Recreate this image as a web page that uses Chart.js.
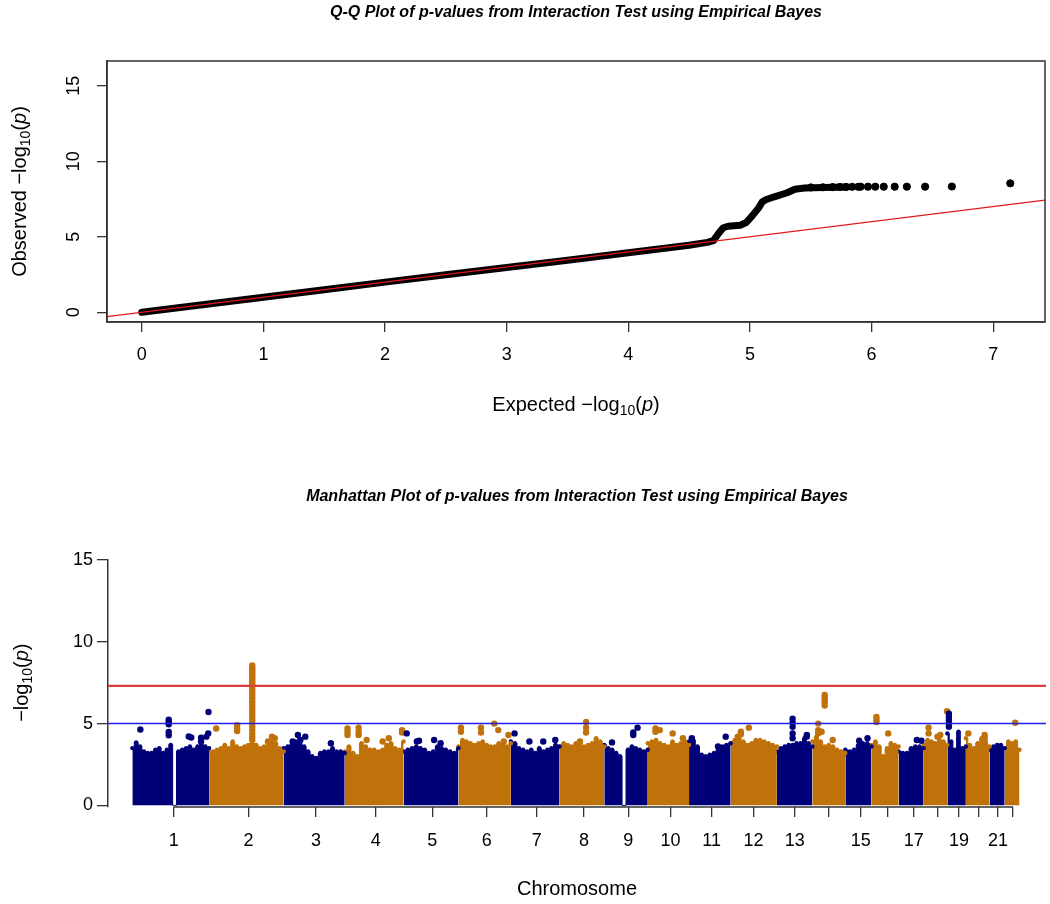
<!DOCTYPE html>
<html lang="en">
<head>
<meta charset="UTF-8">
<title>Q-Q e Manhattan</title>
<script src="https://cdn.jsdelivr.net/npm/chart.js"></script>
<style>
  body { margin: 0; background: #fff; }
  .quadro { position: relative; width: 1050px; height: 904px; }
  .quadro canvas { position: absolute; left: 0; top: 0; }
</style>
</head>
<body>
<div class="quadro">
  <canvas id="qq" width="1050" height="904"></canvas>
  <canvas id="manhattan" width="1050" height="904"></canvas>
</div>
<script>
// ---------- Q-Q data ----------
const qqExpected = [0, 0.5, 1, 1.5, 2, 2.5, 3, 3.5, 4, 4.3, 4.5, 4.65, 4.7, 4.74, 4.78, 4.82, 4.92, 4.97, 5.02, 5.07, 5.1, 5.13, 5.2, 5.3, 5.37, 5.45, 5.6, 5.8];
const qqObserved = [0, 0.5, 1, 1.5, 2, 2.49, 2.97, 3.45, 3.95, 4.24, 4.44, 4.63, 4.75, 5.2, 5.6, 5.7, 5.77, 5.95, 6.4, 6.9, 7.3, 7.45, 7.65, 7.9, 8.15, 8.23, 8.27, 8.3];
const tailExpected = [5.5, 5.6, 5.68, 5.74, 5.79, 5.84, 5.89, 5.91, 5.97, 6.03, 6.10, 6.19, 6.29, 6.44, 6.66, 7.14];
const tailObserved = [8.27, 8.28, 8.29, 8.3, 8.3, 8.31, 8.31, 8.32, 8.32, 8.32, 8.32, 8.32, 8.32, 8.32, 8.33, 8.54];

// ---------- Manhattan data ----------
// chromosome boundaries on the cumulative position axis (Mb)
const chrBounds = [0, 249, 491, 689, 880, 1058, 1228, 1386, 1531, 1672, 1806, 1941, 2091, 2206, 2313, 2398, 2486, 2567, 2644, 2704, 2781, 2830, 2878];
const tickPos = [134, 377, 596, 790, 973, 1150, 1312, 1465, 1609, 1746, 1879, 2015, 2149, 2260, 2363, 2450, 2535, 2614, 2682, 2744, 2808, 2857];
const tickLabels = ['1','2','3','4','5','6','7','8','9','10','11','12','13','','15','','17','','19','','21',''];
// top of the dense cloud of SNPs, sampled evenly along each chromosome (-log10 p)
const bodyTop = [
  [3.5,3.85,3.6,3.3,3.2,3.2,3.4,3.5,3.2,3.4,3.7,0,3.3,3.4,3.5,3.6,3.4,3.6,3.7,3.6,3.5],
  [3.3,3.3,3.4,3.5,3.7,3.5,3.9,3.6,3.5,3.6,3.7,3.8,3.7,3.5,3.6,3.7,3.9,3.8,3.5,3.3],
  [3.5,3.6,3.7,3.9,3.8,3.6,3.3,3.0,2.9,3.2,3.3,3.3,3.5,3.3,3.3,3.2],
  [3.3,3.6,3.2,3.0,3.8,3.6,3.4,3.4,3.3,3.4,3.7,3.8,3.5,3.4,3.9],
  [3.3,3.4,3.5,3.6,3.5,3.4,3.2,3.3,3.6,3.5,3.4,3.3,3.2,3.5],
  [3.6,4.0,3.9,3.8,3.7,3.8,3.9,3.7,3.6,3.6,3.8,3.7,3.6,3.8],
  [3.9,3.8,3.5,3.4,3.3,3.4,3.2,3.5,3.3,3.4,3.5,3.7,3.6],
  [3.6,3.8,3.7,3.6,3.8,3.9,3.6,3.7,3.8,4.1,3.9,3.6],
  [3.7,3.5,3.4,3.2,3.0,0,3.4,3.6,3.5,3.4,3.3,3.4],
  [3.8,3.9,4.0,3.8,3.7,3.6,3.9,3.7,3.8,3.9,3.7],
  [3.9,4.0,3.6,3.1,3.0,3.1,3.2,3.4,3.6,3.7,3.8],
  [3.8,4.0,4.1,3.9,3.7,3.8,4.0,4.0,3.9,3.8,3.7,3.6],
  [3.3,3.5,3.6,3.7,3.7,3.8,3.8,4.1,3.8,3.6],
  [3.9,4.2,3.9,3.6,3.7,3.6,3.4,3.3,3.2],
  [3.4,3.3,3.4,3.7,3.8,3.8,3.6],
  [3.7,3.9,3.6,3.0,3.5,3.8,3.7,3.6],
  [3.3,3.2,3.2,3.5,3.6,3.6,3.5],
  [3.7,4.0,3.9,3.8,4.0,3.9,3.7],
  [4.4,3.9,3.4,4.5,3.5,3.6],
  [4.1,3.7,3.5,3.8,4.1,3.9,3.6],
  [3.4,3.6,3.7,3.7,3.5],
  [3.5,3.9,3.8,3.9,3.4]
];
// single SNPs standing above the cloud: [position Mb, -log10 p]
const hits = [
  [26,4.64],[118,5.24],[118,5.1],[118,4.96],[118,4.49],[118,4.29],[183,4.21],[191,4.15],[223,4.13],[223,3.9],[240,4.2],[247,5.71],[246,4.4],
  [272,4.7],[340,4.9],[340,4.7],[340,4.55],[453,4.2],[462,4.1],[440,3.9],
  [389,8.55],[389,8.42],[389,8.3],[389,8.18],[389,8.05],[389,7.93],[389,7.8],[389,7.68],[389,7.55],[389,7.42],[389,7.3],[389,7.1],
  [389,6.9],[389,6.75],[389,6.55],[389,6.35],[389,6.2],[389,6.0],[389,5.8],[389,5.6],[389,5.4],[389,5.2],[389,5.0],[389,4.8],[389,4.6],[389,4.4],[389,4.2],[389,4.0],
  [537,4.3],[561,4.2],[520,3.9],[545,4.0],[644,3.8],
  [698,4.7],[698,4.5],[698,4.3],[734,4.75],[734,4.5],[734,4.3],[832,4.1],[875,4.6],[875,4.45],[760,4.0],[812,3.9],
  [890,4.4],[923,3.9],[930,3.95],[979,4.0],[1000,3.8],
  [1066,4.75],[1066,4.5],[1131,4.75],[1131,4.45],[1174,5.0],[1187,4.6],[1220,4.3],[1205,3.9],
  [1240,4.4],[1288,3.9],[1333,3.9],[1372,4.0],
  [1472,5.1],[1472,4.75],[1472,4.45],[1452,3.9],
  [1625,4.45],[1625,4.3],[1639,4.75],[1556,3.85],
  [1697,4.7],[1697,4.5],[1711,4.6],[1753,4.4],[1786,4.1],
  [1815,4.1],[1900,3.6],[1925,4.2],
  [1964,4.2],[1974,4.5],[1974,4.35],[2000,4.75],
  [2142,5.3],[2142,5.05],[2142,4.8],[2142,4.4],[2142,4.1],[2188,4.3],[2188,4.2],
  [2225,5.0],[2225,4.6],[2225,4.4],[2246,6.75],[2246,6.6],[2246,6.45],[2246,6.3],[2246,6.1],[2236,4.5],[2272,4.0],
  [2358,3.95],[2385,4.1],
  [2414,5.4],[2414,5.25],[2414,5.1],[2452,4.4],
  [2545,4.0],[2560,3.95],
  [2583,4.75],[2583,4.4],[2612,4.2],[2621,4.3],[2643,5.75],
  [2649,5.6],[2649,5.4],[2649,5.2],[2649,5.0],[2649,4.8],
  [2712,4.4],[2765,4.3],[2765,4.1],
  [2864,5.05]
];
const genomeWide = 7.3;
const suggestive = 5;

const fonte = '"Liberation Sans", Arial, Helvetica, sans-serif';
const navy = '#000079';
const laranja = '#c0720a';

function corDoCromossomo(i) { return i % 2 === 0 ? navy : laranja; }
function cromossomoDe(pos) {
  for (let i = 0; i < chrBounds.length - 1; i++) {
    if (pos < chrBounds[i + 1]) return i;
  }
  return chrBounds.length - 2;
}

// "prefix -log10(p)" with subscript and italic p
function desenhaLog(ctx, prefixo, cx, cy, vertical, size) {
  const partes = [
    [prefixo + '\u2212log', size + 'px ' + fonte, 0],
    ['10', Math.round(size * 0.72) + 'px ' + fonte, size * 0.3],
    ['(', size + 'px ' + fonte, 0],
    ['p', 'italic ' + size + 'px ' + fonte, 0],
    [')', size + 'px ' + fonte, 0]
  ];
  ctx.save();
  let total = 0;
  partes.forEach(p => { ctx.font = p[1]; p.push(ctx.measureText(p[0]).width); total += p[3]; });
  ctx.translate(cx, cy);
  if (vertical) ctx.rotate(-Math.PI / 2);
  ctx.fillStyle = '#000';
  ctx.textBaseline = 'middle';
  ctx.textAlign = 'left';
  let x = -total / 2;
  partes.forEach(p => { ctx.font = p[1]; ctx.fillText(p[0], x, p[2]); x += p[3]; });
  ctx.restore();
}

function titulo(ctx, texto, cx, cy) {
  ctx.save();
  ctx.font = 'italic bold 16px ' + fonte;
  ctx.fillStyle = '#000';
  ctx.textAlign = 'center';
  ctx.textBaseline = 'middle';
  ctx.fillText(texto, cx, cy);
  ctx.restore();
}

// ---------- Q-Q plot ----------
const qqBand = qqExpected.map((e, i) => ({ x: e, y: qqObserved[i] }));
const qqTail = tailExpected.map((e, i) => ({ x: e, y: tailObserved[i] }));

new Chart(document.getElementById('qq'), {
  type: 'scatter',
  data: {
    datasets: [
      { type: 'line', data: [{ x: -1, y: -1 }, { x: 9, y: 9 }], borderColor: '#e3161c', borderWidth: 1.3,
        pointRadius: 0, order: 0, clip: 0 },
      { type: 'line', data: qqBand, borderColor: '#000', borderWidth: 7, borderCapStyle: 'round',
        borderJoinStyle: 'round', pointRadius: 0, tension: 0, order: 1 },
      { data: qqTail, backgroundColor: '#000', borderColor: '#000', pointRadius: 3.6, order: 1 }
    ]
  },
  options: {
    responsive: false, animation: false, events: [],
    layout: { padding: { left: 0, top: 61, right: 5, bottom: 904 - 322 - 60 } },
    plugins: { legend: { display: false }, tooltip: { enabled: false } },
    scales: {
      x: {
        type: 'linear', min: -0.2856, max: 7.4256,
        afterFit: s => { s.height = 60; },
        ticks: { stepSize: 1, includeBounds: false, maxRotation: 0, color: '#000', padding: 12, font: { family: fonte, size: 18 } },
        grid: { drawOnChartArea: false, tickLength: 10, color: '#333', lineWidth: 1.3 },
        border: { display: true, color: '#333', width: 1.5 }
      },
      y: {
        min: -0.64, max: 16.64,
        afterFit: s => { s.width = 107; },
        ticks: { stepSize: 5, includeBounds: false, minRotation: 90, maxRotation: 90, crossAlign: 'center',
          color: '#000', padding: 13, font: { family: fonte, size: 18 } },
        grid: { drawOnChartArea: false, tickLength: 10, color: '#333', lineWidth: 1.3 },
        border: { display: true, color: '#333', width: 1.5 }
      }
    }
  },
  plugins: [{
    id: 'moldura',
    afterDraw(chart) {
      const { ctx, chartArea: a } = chart;
      ctx.save();
      ctx.strokeStyle = '#333';
      ctx.lineWidth = 1.5;
      ctx.strokeRect(a.left, a.top, a.right - a.left, a.bottom - a.top);
      ctx.restore();
      titulo(ctx, 'Q-Q Plot of p-values from Interaction Test using Empirical Bayes', (a.left + a.right) / 2, 13);
      desenhaLog(ctx, 'Expected ', (a.left + a.right) / 2, 405, false, 20);
      desenhaLog(ctx, 'Observed ', 20, (a.top + a.bottom) / 2, true, 20);
    }
  }]
});

// ---------- Manhattan plot ----------
const mhDatasets = [];
bodyTop.forEach((tops, i) => {
  const ini = chrBounds[i], fim = chrBounds[i + 1];
  const passo = (fim - ini) / (tops.length - 1);
  mhDatasets.push({
    type: 'line',
    data: tops.map((v, k) => ({ x: ini + k * passo, y: v })),
    stepped: 'middle',
    fill: 'origin',
    backgroundColor: corDoCromossomo(i),
    borderColor: corDoCromossomo(i),
    borderWidth: 1,
    pointRadius: tops.map(v => v > 0 ? 2.2 : 0),
    pointBackgroundColor: corDoCromossomo(i),
    pointBorderWidth: 0,
    order: 3
  });
});
[0, 1].forEach(par => {
  mhDatasets.push({
    type: 'scatter',
    data: hits.filter(h => cromossomoDe(h[0]) % 2 === par).map(h => ({ x: h[0], y: h[1] })),
    backgroundColor: par === 0 ? navy : laranja,
    borderWidth: 0,
    pointRadius: 3.2,
    order: 2
  });
});
mhDatasets.push({ type: 'line', data: [{ x: -79, y: genomeWide }, { x: 2964, y: genomeWide }],
  borderColor: '#dc3b3b', borderWidth: 2.2, pointRadius: 0, order: 0 });
mhDatasets.push({ type: 'line', data: [{ x: -79, y: suggestive }, { x: 2964, y: suggestive }],
  borderColor: '#1f1fe6', borderWidth: 1.5, pointRadius: 0, order: 1 });

new Chart(document.getElementById('manhattan'), {
  type: 'line',
  data: { datasets: mhDatasets },
  options: {
    responsive: false, animation: false, events: [],
    layout: { padding: { left: 0, top: 560, right: 4, bottom: 904 - 807 - 60 } },
    plugins: { legend: { display: false }, tooltip: { enabled: false } },
    scales: {
      x: {
        type: 'linear', min: -79, max: 2964,
        afterFit: s => { s.height = 60; },
        afterBuildTicks: s => { s.ticks = tickPos.map(v => ({ value: v })); },
        ticks: { autoSkip: false, maxRotation: 0, minRotation: 0, color: '#000', padding: 13,
          font: { family: fonte, size: 18 }, callback: (v, i) => tickLabels[i] },
        grid: { drawOnChartArea: false, tickLength: 10, color: '#333', lineWidth: 1.3 },
        border: { display: false }
      },
      y: {
        min: -0.1, max: 15,
        afterFit: s => { s.width = 108; },
        ticks: { stepSize: 5, includeBounds: false, color: '#000', padding: 4, font: { family: fonte, size: 18 } },
        grid: { drawOnChartArea: false, tickLength: 11, color: '#333', lineWidth: 1.3 },
        border: { display: true, color: '#333', width: 1.5 }
      }
    }
  },
  plugins: [{
    id: 'eixosR',
    afterDraw(chart) {
      const { ctx, chartArea: a, scales } = chart;
      const x0 = scales.x.getPixelForValue(tickPos[0]);
      const x1 = scales.x.getPixelForValue(tickPos[tickPos.length - 1]);
      ctx.save();
      ctx.strokeStyle = '#333';
      ctx.lineWidth = 1.3;
      ctx.beginPath();
      ctx.moveTo(x0, a.bottom);
      ctx.lineTo(x1, a.bottom);
      ctx.stroke();
      ctx.restore();
      titulo(ctx, 'Manhattan Plot of p-values from Interaction Test using Empirical Bayes', (a.left + a.right) / 2, 497);
      desenhaLog(ctx, '', 22, scales.y.getPixelForValue(7.5), true, 20);
      ctx.save();
      ctx.font = '20px ' + fonte;
      ctx.fillStyle = '#000';
      ctx.textAlign = 'center';
      ctx.textBaseline = 'middle';
      ctx.fillText('Chromosome', (a.left + a.right) / 2, 889);
      ctx.restore();
    }
  }]
});
</script>
</body>
</html>
